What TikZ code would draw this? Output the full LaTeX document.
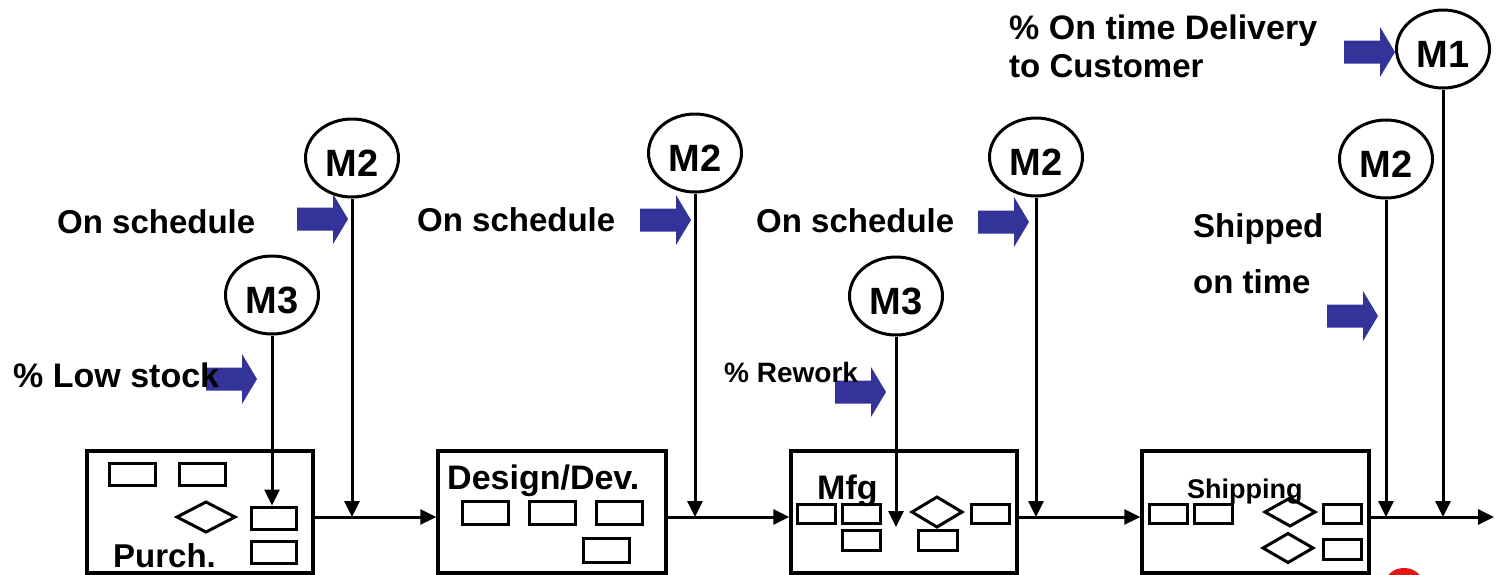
\documentclass[tikz,border=0pt]{standalone}
\usepackage{fontspec}
\setmainfont{Liberation Sans}
\usetikzlibrary{arrows.meta,shapes.geometric}
\definecolor{barblue}{RGB}{51,51,153}
\definecolor{logored}{RGB}{230,20,20}
\tikzset{
  conn/.style={line width=3pt,-{Triangle[length=16pt,width=15pt]}},
  procbox/.style={draw,line width=3.5pt,inner sep=0pt,rectangle},
  mcirc/.style={draw,ellipse,line width=3pt,minimum width=93pt,minimum height=78pt,inner sep=0pt,
     font=\fontsize{38}{40}\selectfont\bfseries,text height=37pt,text depth=0pt},
  lab/.style={inner sep=0pt,anchor=base west,font=\fontsize{33}{38}\selectfont\bfseries},
  srect/.style={draw,line width=3pt,inner sep=0pt,minimum width=46pt,minimum height=22pt},
  srectb/.style={draw,line width=3pt,inner sep=0pt,minimum width=38pt,minimum height=19pt},
  dia/.style={line width=3pt},
  barrow/.pic={\fill[barblue] (0,0) -- (-15,-25) -- (-15,-11.5) -- (-51,-11.5) -- (-51,11.5) -- (-15,11.5) -- (-15,25) -- cycle;}
}
\begin{document}
\begin{tikzpicture}[x=1pt,y=-1pt]
\useasboundingbox (0,0) rectangle (1496,574);

% process boxes
\node[procbox,minimum width=226pt,minimum height=122pt] (purch) at (200,512) {};
\node[procbox,minimum width=228pt,minimum height=122pt] (design) at (552,512) {};
\node[procbox,minimum width=226pt,minimum height=122pt] (mfg) at (904,512) {};
\node[procbox,minimum width=227pt,minimum height=122pt] (ship) at (1255.5,512) {};

% small rectangles
\node[srect] (pr1) at (132,474) {};
\node[srect] (pr2) at (202,474) {};
\node[srect,minimum width=45pt] (pr3) at (273.5,518) {};
\node[srect,minimum width=45pt] (pr4) at (273.5,552) {};
\draw[dia] (177,517) -- (206,502) -- (235,517) -- (206,532) -- cycle;

\node[srect,minimum height=23pt] (dr1) at (485,512.5) {};
\node[srect,minimum height=23pt] (dr2) at (552.5,512.5) {};
\node[srect,minimum height=23pt] (dr3) at (619,512.5) {};
\node[srect,minimum height=24pt] (dr4) at (606,550) {};

\node[srectb] (mr1) at (816,513.5) {};
\node[srectb] (mr2) at (861,513.5) {};
\node[srectb,minimum height=20pt] (mr3) at (861,540) {};
\node[srectb,minimum width=39pt,minimum height=20pt] (mr4) at (937.5,540) {};
\node[srectb] (mr5) at (990,513.5) {};
\draw[dia] (912,512) -- (937,497) -- (962,512) -- (937,527) -- cycle;

\node[srectb] (sr1) at (1168.5,513.5) {};
\node[srectb] (sr2) at (1213.5,513.5) {};
\node[srectb] (sr3) at (1342.5,513.5) {};
\node[srectb,minimum height=20pt] (sr4) at (1342,549) {};
\draw[dia] (1265,512) -- (1290,498) -- (1315,512) -- (1290,526) -- cycle;
\draw[dia] (1263,548) -- (1288,533.5) -- (1313,548) -- (1288,562.5) -- cycle;

% box titles
\node[lab,font=\fontsize{34}{38}\selectfont\bfseries] (tdes) at (447,489) {Design/Dev.};
\node[lab,font=\fontsize{34}{38}\selectfont\bfseries] (tmfg) at (817,499) {Mfg};
\node[lab,font=\fontsize{27}{30}\selectfont\bfseries] (tship) at (1187,498) {Shipping};
\node[lab] (tpur) at (113,567) {Purch.};

% main flow line
\coordinate (mainy) at (0,517);
\coordinate (endpt) at (1494,517);
\draw[conn] ([yshift=-5pt]purch.east) -- ([yshift=-5pt]design.west);
\draw[conn] ([yshift=-5pt]design.east) -- ([yshift=-5pt]mfg.west);
\draw[conn] ([yshift=-5pt]mfg.east) -- ([yshift=-5pt]ship.west);
\draw[conn] ([yshift=-5pt]ship.east) -- (endpt);

% measure ellipses
\node[mcirc] (m1) at (1443,49) {M1};
\node[mcirc] (m2a) at (352,158) {M2};
\node[mcirc] (m2b) at (695,153) {M2};
\node[mcirc] (m2c) at (1036,157) {M2};
\node[mcirc] (m2d) at (1386,159) {M2};
\node[mcirc] (m3a) at (272,295) {M3};
\node[mcirc] (m3b) at (896,296) {M3};

% measure lines
\coordinate (m3bend) at (896,527);
\draw[conn] (m1.south) -- (m1.south |- mainy);
\draw[conn] (m2a.south) -- (m2a.south |- mainy);
\draw[conn] (m2b.south) -- (m2b.south |- mainy);
\draw[conn] (m2c.south) -- (m2c.south |- mainy);
\draw[conn] (m2d.south) -- (m2d.south |- mainy);
\draw[conn] (m3a.south) -- (m3a.south |- pr3.north);
\draw[conn] (m3b.south) -- (m3bend);

% blue block arrows
\pic at (1395,52) {barrow};
\pic at (348,219) {barrow};
\pic at (691,220) {barrow};
\pic at (1029,222) {barrow};
\pic at (1378,316) {barrow};
\pic at (257,379) {barrow};
\pic at (886,392) {barrow};

% labels
\node[lab,font=\fontsize{34}{38}\selectfont\bfseries] (l1a) at (1009,39) {\% On time Delivery};
\node[lab] (l1b) at (1009,77) {to Customer};
\node[lab] (l2a) at (57,233) {On schedule};
\node[lab] (l2b) at (417,231) {On schedule};
\node[lab] (l2c) at (756,232) {On schedule};
\node[lab] (l2d) at (1193,237) {Shipped};
\node[lab] (l2e) at (1193,293) {on time};
\node[lab,font=\fontsize{34}{38}\selectfont\bfseries] (l3a) at (13,387) {\% Low stock};
\node[lab,font=\fontsize{28}{30}\selectfont\bfseries] (l3b) at (724,382) {\% Rework};

% partial logo at bottom edge
\fill[logored] (1404,584) ellipse [x radius=19pt,y radius=16pt];
\end{tikzpicture}
\end{document}
